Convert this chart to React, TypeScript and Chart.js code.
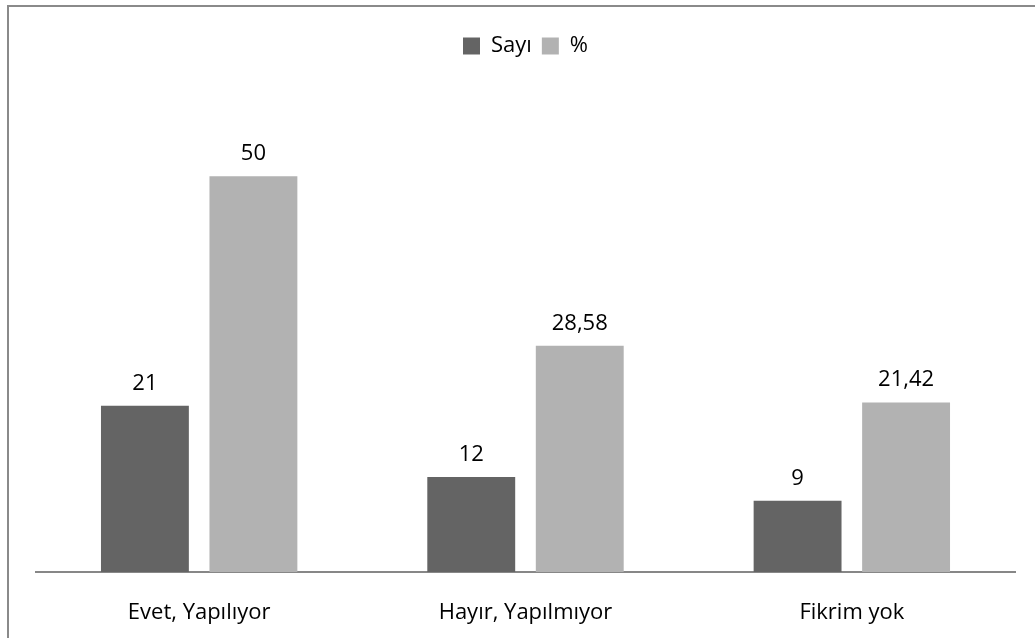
import React, { useEffect, useRef } from "react";
import { Chart, registerables } from "chart.js";

Chart.register(...registerables);

const categories = ["Evet, Yapılıyor", "Hayır, Yapılmıyor", "Fikrim yok"];
const sayiValues = [21, 12, 9];
const yuzdeValues = [50, 28.58, 21.42];
const seriesNames = ["Sayı", "%"];
const yMax = 60;

const FONT = "'Open Sans', 'Noto Sans', sans-serif";

const fmt = (v: number) => String(v).replace(".", ",");

const dataLabelPlugin = {
  id: "dataLabels",
  afterDatasetsDraw(chart: any) {
    const ctx = chart.ctx;
    ctx.save();
    ctx.font = `22px ${FONT}`;
    ctx.fillStyle = "#000";
    ctx.textAlign = "center";
    ctx.textBaseline = "alphabetic";
    chart.data.datasets.forEach((ds: any, di: number) => {
      const meta = chart.getDatasetMeta(di);
      meta.data.forEach((el: any, i: number) => {
        ctx.fillText(fmt(ds.data[i]), el.x, el.y - 16);
      });
    });
    ctx.restore();
  },
};

export default function App() {
  const ref = useRef<HTMLCanvasElement | null>(null);
  useEffect(() => {
    if (!ref.current) return;
    const chart = new Chart(ref.current, {
      type: "bar",
      data: {
        labels: categories,
        datasets: [
          {
            label: seriesNames[0],
            data: sayiValues,
            backgroundColor: "#646464",
            categoryPercentage: 0.665,
            barPercentage: 0.81,
          },
          {
            label: seriesNames[1],
            data: yuzdeValues,
            backgroundColor: "#b2b2b2",
            categoryPercentage: 0.665,
            barPercentage: 0.81,
          },
        ],
      },
      options: {
        animation: false,
        responsive: false,
        maintainAspectRatio: false,
        layout: { padding: { left: 36, right: 20, top: 25, bottom: 0 } },
        plugins: {
          legend: {
            position: "top",
            weight: 3000,
            labels: {
              boxWidth: 17,
              boxHeight: 17,
              padding: 10,
              color: "#000",
              font: { family: FONT, size: 22 },
            },
          } as any,
          title: {
            display: true,
            text: "",
            position: "top",
            weight: 500,
            padding: 0,
            font: { size: 30, lineHeight: 1 },
          } as any,
          tooltip: { enabled: false },
        },
        scales: {
          x: {
            grid: { display: false, drawTicks: false },
            border: { display: true, color: "#878787", width: 2 },
            ticks: {
              color: "#000",
              padding: 28,
              font: { family: FONT, size: 22 },
            },
            afterFit: (scale: any) => {
              scale.height = 66;
            },
          },
          y: {
            display: false,
            min: 0,
            max: yMax,
          },
        },
      },
      plugins: [dataLabelPlugin],
    });
    return () => chart.destroy();
  }, []);

  return (
    <div>
      <div
        style={{
          position: "fixed",
          left: 7,
          top: 5,
          width: 1100,
          height: 700,
          border: "2px solid #8a8a8a",
          boxSizing: "border-box",
        }}
      />
      <canvas
        ref={ref}
        width={1035}
        height={638}
        style={{ position: "fixed", left: 0, top: 0, width: 1035, height: 638 }}
      />
    </div>
  );
}
